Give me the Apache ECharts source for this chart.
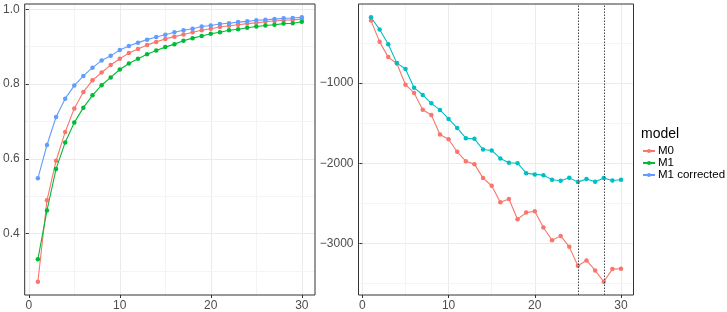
<!DOCTYPE html>
<html><head><meta charset="utf-8">
<script src="https://cdn.jsdelivr.net/npm/echarts@6/dist/echarts.min.js"></script>
<style>html,body{margin:0;padding:0;background:#fff}#c{width:727px;height:312px}</style>
</head><body><div id="c"></div>
<script>
const xs = [1,2,3,4,5,6,7,8,9,10,11,12,13,14,15,16,17,18,19,20,21,22,23,24,25,26,27,28,29,30];
// left panel
const leftM0 = [0.271,0.489,0.595,0.672,0.735,0.779,0.810,0.831,0.851,0.868,0.883,0.894,0.905,0.913,0.921,0.927,0.933,0.939,0.944,0.948,0.953,0.956,0.959,0.962,0.964,0.967,0.969,0.971,0.972,0.974];
const leftM1 = [0.331,0.462,0.573,0.644,0.697,0.737,0.770,0.797,0.818,0.839,0.855,0.868,0.880,0.890,0.899,0.907,0.916,0.923,0.929,0.935,0.939,0.944,0.947,0.951,0.954,0.957,0.959,0.962,0.963,0.967];
const leftM1c = [0.548,0.637,0.712,0.761,0.796,0.822,0.844,0.863,0.876,0.891,0.902,0.911,0.919,0.926,0.932,0.939,0.944,0.948,0.954,0.957,0.961,0.963,0.966,0.968,0.971,0.972,0.974,0.976,0.977,0.979];
// right panel
const rightM0 = [-222,-487,-677,-757,-1021,-1124,-1332,-1398,-1642,-1700,-1857,-1974,-2011,-2185,-2280,-2487,-2446,-2698,-2615,-2599,-2801,-2959,-2905,-3042,-3278,-3211,-3335,-3477,-3319,-3315];
const rightM1 = [-180,-334,-516,-752,-826,-1058,-1149,-1253,-1335,-1447,-1559,-1688,-1696,-1829,-1840,-1940,-1994,-1999,-2123,-2139,-2148,-2205,-2217,-2180,-2235,-2197,-2230,-2185,-2214,-2205];
const vlines = [25, 28];
const xTicks = [0,10,20,30];
const xMinor = [5,15,25];
const leftYTicks = [0.4,0.6,0.8,1.0];
const leftYMinor = [0.3,0.5,0.7,0.9];
const rightYTicks = [-1000,-2000,-3000];
const rightYMinor = [-500,-1500,-2500,-3500];
const seriesNames = ['M0','M1','M1 corrected'];

const COL = {M0:'#F8766D', M1:'#00BA38', M1c:'#619CFF', teal:'#00BFC4'};
const FONT = 'Liberation Sans, Arial, Helvetica, sans-serif';

function ext(arrs){
  let mn=Infinity,mx=-Infinity;
  arrs.forEach(a=>a.forEach(v=>{mn=Math.min(mn,v);mx=Math.max(mx,v);}));
  const p=(mx-mn)*0.05; return [mn-p,mx+p];
}
const xExt = ext([xs]);
const lExt = ext([leftM0,leftM1,leftM1c]);
const rExt = ext([rightM0,rightM1]);
const pts = vals => xs.map((x,i)=>[x,vals[i]]);
const fmtMinus = v => String(v).replace('-','\u2212');

function xAxisCfg(gi){
  return {type:'value', gridIndex:gi, min:xExt[0], max:xExt[1],
    splitLine:{show:false}, axisLine:{show:false},
    axisTick:{show:true, length:3, lineStyle:{color:'#333', width:1}, customValues:xTicks},
    axisLabel:{color:'#4D4D4D', fontSize:12, fontFamily:FONT, margin:5, customValues:xTicks}};
}
function yAxisCfg(gi, e, ticks, fmt){
  return {type:'value', gridIndex:gi, min:e[0], max:e[1],
    splitLine:{show:false}, axisLine:{show:false},
    axisTick:{show:true, length:3, lineStyle:{color:'#333', width:1}, customValues:ticks},
    axisLabel:{color:'#4D4D4D', fontSize:12, fontFamily:FONT, margin:5, customValues:ticks, formatter:fmt}};
}
function gridSeries(gi, yMaj, yMin){
  const maj={color:'#EBEBEB', width:1, type:'solid'};
  const mnr={color:'#F4F4F4', width:1, type:'solid'};
  const data=[];
  xTicks.forEach(v=>data.push({xAxis:v, lineStyle:maj}));
  xMinor.forEach(v=>data.push({xAxis:v, lineStyle:mnr}));
  yMaj.forEach(v=>data.push({yAxis:v, lineStyle:maj}));
  yMin.forEach(v=>data.push({yAxis:v, lineStyle:mnr}));
  return {type:'line', xAxisIndex:gi, yAxisIndex:gi, data:[], silent:true, z:1,
    markLine:{z:0, silent:true, symbol:['none','none'], label:{show:false}, animation:false, data:data}};
}
function lineSeries(name, gi, vals, color){
  return {name:name, type:'line', xAxisIndex:gi, yAxisIndex:gi, data:pts(vals), z:3,
    symbol:'circle', symbolSize:4.5, showSymbol:true,
    lineStyle:{color:color, width:1.1}, itemStyle:{color:color}};
}

const chart = echarts.init(document.getElementById('c'), null, {renderer:'canvas'});
chart.setOption({
  animation:false,
  backgroundColor:'#fff',
  textStyle:{fontFamily:FONT},
  grid:[
    {left:23.5, top:4, width:291.5, height:292, show:true, borderColor:'#333', borderWidth:1, backgroundColor:'transparent', z:5},
    {left:358.5, top:4, width:275, height:292, show:true, borderColor:'#333', borderWidth:1, backgroundColor:'transparent', z:5}
  ],
  xAxis:[xAxisCfg(0), xAxisCfg(1)],
  yAxis:[yAxisCfg(0,lExt,leftYTicks,v=>v.toFixed(1)), yAxisCfg(1,rExt,rightYTicks,fmtMinus)],
  title:{text:'model', left:641, top:127, padding:0, textStyle:{fontSize:14, fontWeight:'normal', color:'#000', fontFamily:FONT}},
  legend:{data:seriesNames, orient:'vertical', left:642, top:145, padding:0, itemGap:0,
    itemWidth:12, itemHeight:5, textStyle:{fontSize:11.5, color:'#000', lineHeight:11, padding:[0,0,0,-2], fontFamily:FONT}},
  series:[
    gridSeries(0, leftYTicks, leftYMinor),
    gridSeries(1, rightYTicks, rightYMinor),
    lineSeries('M0',0,leftM0,COL.M0),
    lineSeries('M1',0,leftM1,COL.M1),
    lineSeries('M1 corrected',0,leftM1c,COL.M1c),
    lineSeries('M0',1,rightM0,COL.M0),
    lineSeries('M1',1,rightM1,COL.teal),
    {type:'line', xAxisIndex:1, yAxisIndex:1, data:[], silent:true, z:4,
      markLine:{silent:true, symbol:['none','none'], label:{show:false}, animation:false,
        lineStyle:{color:'#444', width:1, type:[1.5,1.5]},
        data:vlines.map(v=>({xAxis:v}))}}
  ]
});
</script></body></html>
